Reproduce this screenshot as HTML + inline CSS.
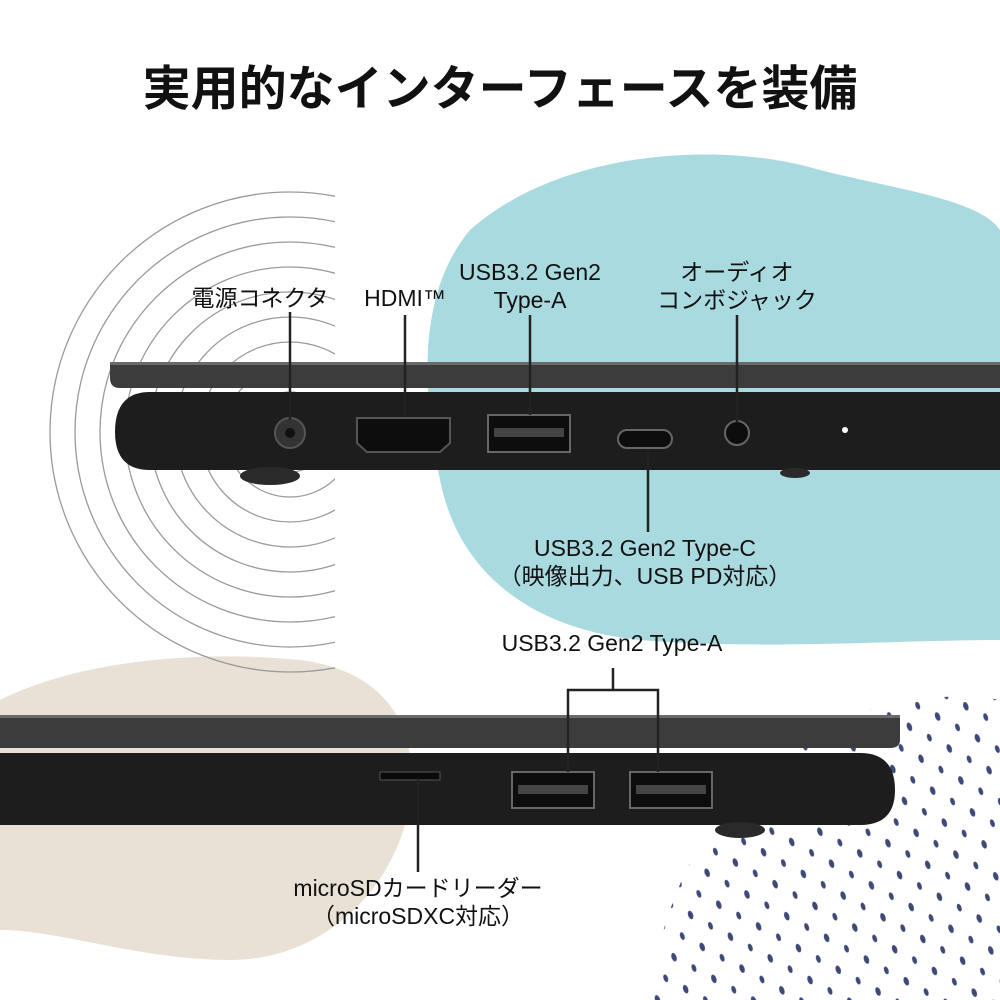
<!DOCTYPE html>
<html><head><meta charset="utf-8">
<style>
html,body{margin:0;padding:0;background:#fff;}
body{width:1000px;height:1000px;overflow:hidden;position:relative;font-family:"Liberation Sans","Noto Sans CJK JP",sans-serif;}
.t{position:absolute;color:#111;font-size:23px;text-align:center;white-space:nowrap;line-height:28px;}
</style></head><body>
<svg width="1000" height="1000" style="position:absolute;left:0;top:0">
<defs>
<pattern id="dots" width="30" height="34" patternUnits="userSpaceOnUse" patternTransform="rotate(-20)">
<ellipse cx="6" cy="8" rx="2.5" ry="4.5" fill="#3d4a78"/>
<ellipse cx="21" cy="25" rx="2.2" ry="4" fill="#3d4a78"/>
</pattern>
<clipPath id="dc"><path d="M650 1000 C660 900 710 800 790 750 C850 700 950 690 1000 700 L1000 1000 Z"/></clipPath>
<clipPath id="cc"><rect x="0" y="0" width="335" height="1000"/></clipPath>
</defs>
<path d="M470 230 C560 150 720 140 820 170 C900 190 980 200 1000 230 L1000 640 C900 640 760 650 640 640 C540 630 460 580 440 480 C420 380 420 290 470 230 Z" fill="#a9dadf"/>
<path d="M0 700 C80 660 200 650 300 660 C380 670 420 720 410 800 C400 880 330 960 230 960 C140 960 60 930 0 930 Z" fill="#e9e1d5"/>
<rect x="600" y="680" width="400" height="320" fill="url(#dots)" clip-path="url(#dc)"/>
<g fill="none" stroke="#9a9a9a" stroke-width="1.3" clip-path="url(#cc)">
<circle cx="290" cy="432" r="40"/><circle cx="290" cy="432" r="65"/><circle cx="290" cy="432" r="90"/>
<circle cx="290" cy="432" r="115"/><circle cx="290" cy="432" r="140"/><circle cx="290" cy="432" r="165"/>
<circle cx="290" cy="432" r="190"/><circle cx="290" cy="432" r="215"/><circle cx="290" cy="432" r="240"/>
</g>
<path d="M110 362 L1000 362 L1000 388 L120 388 Q110 388 110 378 Z" fill="#3c3c3c"/>
<rect x="110" y="362" width="890" height="3" fill="#6a6a6a"/>
<path d="M150 392 L1000 392 L1000 470 L150 470 Q115 470 115 432 Q115 392 150 392 Z" fill="#1d1d1d"/>
<ellipse cx="270" cy="476" rx="30" ry="9" fill="#2a2a2a"/>
<ellipse cx="795" cy="473" rx="15" ry="5" fill="#2a2a2a"/>
<circle cx="290" cy="433" r="15" fill="#333" stroke="#555" stroke-width="2"/><circle cx="290" cy="433" r="5" fill="#111"/>
<path d="M357 418 L450 418 L450 443 L440 452 L367 452 L357 443 Z" fill="#0d0d0d" stroke="#555" stroke-width="2"/>
<rect x="488" y="415" width="82" height="37" fill="#0d0d0d" stroke="#666" stroke-width="2"/>
<rect x="494" y="428" width="70" height="9" fill="#444"/>
<rect x="618" y="430" width="54" height="18" rx="9" fill="#0d0d0d" stroke="#666" stroke-width="2"/>
<circle cx="737" cy="433" r="12" fill="#0d0d0d" stroke="#666" stroke-width="2"/>
<circle cx="845" cy="430" r="3" fill="#fff"/>
<g stroke="#222" stroke-width="2.5">
<line x1="290" y1="312" x2="290" y2="420"/>
<line x1="405" y1="315" x2="405" y2="415"/>
<line x1="530" y1="315" x2="530" y2="415"/>
<line x1="737" y1="315" x2="737" y2="422"/>
<line x1="648" y1="450" x2="648" y2="532"/>
</g>
<path d="M0 715 L900 715 L900 740 Q900 748 890 748 L0 748 Z" fill="#3c3c3c"/>
<rect x="0" y="715" width="900" height="3" fill="#6a6a6a"/>
<path d="M0 753 L860 753 Q895 753 895 790 Q895 825 860 825 L0 825 Z" fill="#1d1d1d"/>
<ellipse cx="740" cy="830" rx="25" ry="8" fill="#2a2a2a"/>
<rect x="380" y="772" width="60" height="8" fill="#0a0a0a" stroke="#555"/>
<rect x="512" y="772" width="82" height="36" fill="#0d0d0d" stroke="#666" stroke-width="2"/>
<rect x="518" y="785" width="70" height="9" fill="#444"/>
<rect x="630" y="772" width="82" height="36" fill="#0d0d0d" stroke="#666" stroke-width="2"/>
<rect x="636" y="785" width="70" height="9" fill="#444"/>
<g stroke="#222" stroke-width="2.5" fill="none">
<path d="M568 772 L568 690 L658 690 L658 772"/>
<line x1="613" y1="690" x2="613" y2="668"/>
<line x1="418" y1="780" x2="418" y2="872"/>
</g>
</svg>
<div class="t" style="left:0;width:1000px;top:60px;font-size:48px;font-weight:bold;line-height:60px;">実用的なインターフェースを装備</div>
<div class="t" style="left:160px;width:200px;top:284px;">電源コネクタ</div>
<div class="t" style="left:340px;width:130px;top:284px;">HDMI™</div>
<div class="t" style="left:430px;width:200px;top:258px;">USB3.2 Gen2<br>Type-A</div>
<div class="t" style="left:637px;width:200px;top:258px;">オーディオ<br>コンボジャック</div>
<div class="t" style="left:495px;width:300px;top:534px;">USB3.2 Gen2 Type-C<br>（映像出力、USB PD対応）</div>
<div class="t" style="left:462px;width:300px;top:629px;">USB3.2 Gen2 Type-A</div>
<div class="t" style="left:268px;width:300px;top:874px;">microSDカードリーダー<br>（microSDXC対応）</div>
</body></html>
